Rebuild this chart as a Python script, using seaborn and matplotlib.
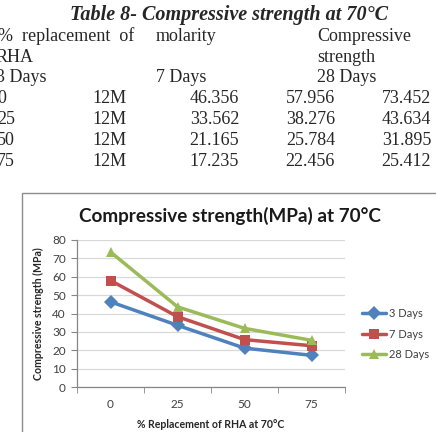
import matplotlib
matplotlib.use("Agg")
import matplotlib.pyplot as plt
from matplotlib.patches import Rectangle
import seaborn as sns
import pandas as pd

# table / chart data
replacement = ["0", "25", "50", "75"]
molarity = ["12M", "12M", "12M", "12M"]
days3 = [46.356, 33.562, 21.165, 17.235]
days7 = [57.956, 38.276, 25.784, 22.456]
days28 = [73.452, 43.634, 31.895, 25.412]
series_names = ["3 Days", "7 Days", "28 Days"]
colors = ["#4F81BD", "#C0504D", "#9BBB59"]
y_ticks = [0, 10, 20, 30, 40, 50, 60, 70, 80]

rows = []
for name, vals in zip(series_names, [days3, days7, days28]):
    for i, v in enumerate(vals):
        rows.append({"pos": i, "val": v, "series": name})
df = pd.DataFrame(rows)

sns.set_style("white")
W, H = 436, 432
fig = plt.figure(figsize=(W / 100, H / 100), dpi=100)

def px(x, y):
    return x / W, 1 - y / H

# ---- table text on top ----
serif = "Liberation Serif"
tsz = 13
fig.text(*px(229, 20), "Table 8- Compressive strength at 70°C", family=serif,
         weight="bold", style="italic", size=14.5, ha="center", va="baseline")
fig.text(*px(-2, 41), "%  replacement  of", family=serif, size=tsz, va="baseline")
fig.text(*px(156, 41), "molarity", family=serif, size=tsz, va="baseline")
fig.text(*px(317, 41), "Compressive", family=serif, size=tsz, va="baseline")
fig.text(*px(-4, 61.5), "RHA", family=serif, size=tsz, va="baseline")
fig.text(*px(317, 61.5), "strength", family=serif, size=tsz, va="baseline")
fig.text(*px(-4, 82), "3 Days", family=serif, size=tsz, va="baseline")
fig.text(*px(156, 82), "7 Days", family=serif, size=tsz, va="baseline")
fig.text(*px(317, 82), "28 Days", family=serif, size=tsz, va="baseline")
for i in range(4):
    yb = 102.7 + i * 21.2
    fig.text(*px(-3, yb), replacement[i], family=serif, size=tsz, va="baseline")
    fig.text(*px(127, yb), molarity[i], family=serif, size=tsz, va="baseline", ha="right")
    fig.text(*px(239, yb), f"{days3[i]:.3f}", family=serif, size=tsz, va="baseline", ha="right")
    fig.text(*px(335, yb), f"{days7[i]:.3f}", family=serif, size=tsz, va="baseline", ha="right")
    fig.text(*px(431, yb), f"{days28[i]:.3f}", family=serif, size=tsz, va="baseline", ha="right")

# ---- chart frame ----
fig.patches.append(Rectangle(px(22, 440), (W - 22 + 5) / W, (440 - 193) / H,
                             transform=fig.transFigure, fill=False,
                             edgecolor="#8C8C8C", linewidth=1.0))

sans = "Lato"
ax = fig.add_axes([77 / W, 1 - 387 / H, (345 - 77) / W, (387 - 240) / H])
sns.lineplot(data=df, x="pos", y="val", hue="series", style="series",
             markers={"3 Days": "D", "7 Days": "s", "28 Days": "^"},
             dashes=False, palette=colors, linewidth=2.5, markersize=7.5,
             markeredgewidth=0, ax=ax)

ax.set_xlim(-0.5, 3.5)
ax.set_ylim(0, 80)
ax.set_yticks(y_ticks)
ax.set_xticks(range(4))
ax.set_xticklabels(replacement)
ax.set_xticks([-0.5, 0.5, 1.5, 2.5, 3.5], minor=True)
ax.tick_params(axis="x", which="major", length=0, pad=9, labelsize=8.5, labelcolor="#404040")
ax.tick_params(axis="x", which="minor", length=4, color="#868686", direction="out", bottom=True)
ax.tick_params(axis="y", length=4, color="#868686", direction="out", left=True,
               labelsize=8.5, labelcolor="#404040", pad=4)
for lab in ax.get_xticklabels() + ax.get_yticklabels():
    lab.set_family(sans)
ax.grid(axis="y", color="#D9D9D9", linewidth=0.9)
ax.set_axisbelow(True)
for s in ["top", "right"]:
    ax.spines[s].set_visible(False)
for s in ["left", "bottom"]:
    ax.spines[s].set_color("#868686")
    ax.spines[s].set_linewidth(0.9)

ax.set_xlabel("% Replacement of RHA at 70°C", family=sans, weight="bold",
              size=7.6, color="#262626", labelpad=6)
ax.set_ylabel("Compressive strength (MPa)", family=sans, weight="bold",
              size=7.6, color="#262626", labelpad=6)

fig.text(*px(230, 222), "Compressive strength(MPa) at 70°C", family=sans,
         weight="bold", size=13.6, ha="center", va="baseline", color="#1a1a1a")

leg = ax.legend(loc="center left", bbox_to_anchor=(362 / W, 1 - 334 / H),
                bbox_transform=fig.transFigure, frameon=False, handlelength=2.2,
                handletextpad=0.2, labelspacing=0.85, borderpad=0,
                borderaxespad=0, prop={"family": sans, "size": 8})
for t in leg.get_texts():
    t.set_color("#404040")

fig.savefig("out.png", dpi=100)
